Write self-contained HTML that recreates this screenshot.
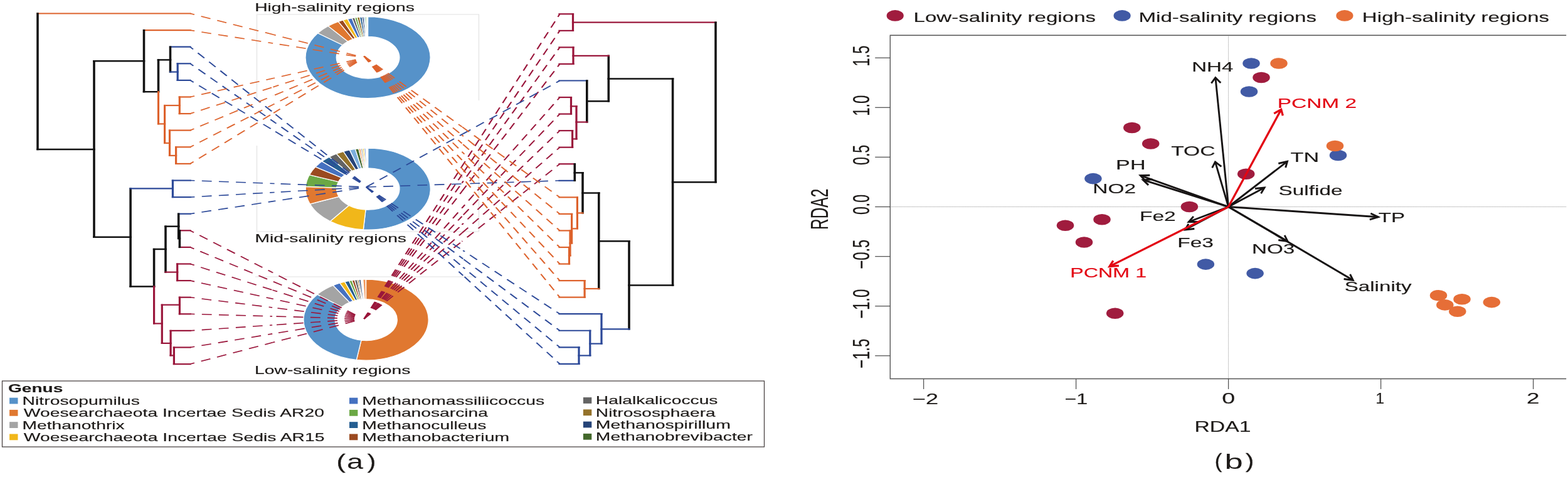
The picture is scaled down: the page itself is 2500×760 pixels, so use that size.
<!DOCTYPE html>
<html><head><meta charset="utf-8"><title>Figure</title><style>html,body{margin:0;padding:0;background:#fff;}svg{display:block}text{font-family:"Liberation Sans",Arial,sans-serif}</style></head><body>
<svg width="2500" height="760" viewBox="0 0 2500 760">
<rect width="2500" height="760" fill="#fff"/>
<polyline points="409.5,157 409.5,23 763.5,23 763.5,160" fill="none" stroke="#e2e2e2" stroke-width="1.2"/>
<polyline points="409.5,232 409.5,369 763.5,369 763.5,232" fill="none" stroke="#e2e2e2" stroke-width="1.2"/>
<polyline points="406.8,441 761,441" fill="none" stroke="#e2e2e2" stroke-width="1.2"/>
<path d="M586.60,26.60 A99.6,65 0 1 1 506.74,52.75 L546.27,71.76 A50.3,33.2 0 1 0 586.60,58.40 Z" fill="#5692c9" stroke="#fff" stroke-width="1.3"/>
<path d="M506.74,52.75 A99.6,65 0 0 1 523.25,41.44 L554.61,65.98 A50.3,33.2 0 0 0 546.27,71.76 Z" fill="#a4a4a4" stroke="#fff" stroke-width="1.3"/>
<path d="M523.25,41.44 A99.6,65 0 0 1 539.38,34.37 L562.75,62.37 A50.3,33.2 0 0 0 554.61,65.98 Z" fill="#e07830" stroke="#fff" stroke-width="1.3"/>
<path d="M539.38,34.37 A99.6,65 0 0 1 546.88,31.99 L566.54,61.15 A50.3,33.2 0 0 0 562.75,62.37 Z" fill="#9b4a20" stroke="#fff" stroke-width="1.3"/>
<path d="M546.88,31.99 A99.6,65 0 0 1 554.17,30.14 L570.22,60.21 A50.3,33.2 0 0 0 566.54,61.15 Z" fill="#f1b71a" stroke="#fff" stroke-width="1.3"/>
<path d="M554.17,30.14 A99.6,65 0 0 1 561.16,28.76 L573.75,59.50 A50.3,33.2 0 0 0 570.22,60.21 Z" fill="#4571c0" stroke="#fff" stroke-width="1.3"/>
<path d="M561.16,28.76 A99.6,65 0 0 1 565.55,28.07 L575.97,59.15 A50.3,33.2 0 0 0 573.75,59.50 Z" fill="#646464" stroke="#fff" stroke-width="1.3"/>
<path d="M565.55,28.07 A99.6,65 0 0 1 569.30,27.59 L577.87,58.90 A50.3,33.2 0 0 0 575.97,59.15 Z" fill="#6ba845" stroke="#fff" stroke-width="1.3"/>
<path d="M569.30,27.59 A99.6,65 0 0 1 573.43,27.17 L579.95,58.69 A50.3,33.2 0 0 0 577.87,58.90 Z" fill="#94722a" stroke="#fff" stroke-width="1.3"/>
<path d="M573.43,27.17 A99.6,65 0 0 1 577.23,26.89 L581.87,58.55 A50.3,33.2 0 0 0 579.95,58.69 Z" fill="#255e91" stroke="#fff" stroke-width="1.3"/>
<path d="M577.23,26.89 A99.6,65 0 0 1 580.17,26.74 L583.35,58.47 A50.3,33.2 0 0 0 581.87,58.55 Z" fill="#264478" stroke="#fff" stroke-width="1.3"/>
<path d="M580.17,26.74 A99.6,65 0 0 1 582.43,26.66 L584.49,58.43 A50.3,33.2 0 0 0 583.35,58.47 Z" fill="#7cafdd" stroke="#fff" stroke-width="1.3"/>
<path d="M582.43,26.66 A99.6,65 0 0 1 584.51,26.61 L585.55,58.41 A50.3,33.2 0 0 0 584.49,58.43 Z" fill="#8cc168" stroke="#fff" stroke-width="1.3"/>
<path d="M586.80,236.00 A99.6,65 0 1 1 579.33,365.82 L583.04,334.11 A50.2,33.2 0 1 0 586.80,267.80 Z" fill="#5692c9" stroke="#fff" stroke-width="1.3"/>
<path d="M579.33,365.82 A99.6,65 0 0 1 526.31,352.64 L556.31,327.37 A50.2,33.2 0 0 0 583.04,334.11 Z" fill="#f1b71a" stroke="#fff" stroke-width="1.3"/>
<path d="M526.31,352.64 A99.6,65 0 0 1 494.26,325.03 L540.16,313.28 A50.2,33.2 0 0 0 556.31,327.37 Z" fill="#a4a4a4" stroke="#fff" stroke-width="1.3"/>
<path d="M494.26,325.03 A99.6,65 0 0 1 487.37,297.26 L536.68,299.09 A50.2,33.2 0 0 0 540.16,313.28 Z" fill="#e07830" stroke="#fff" stroke-width="1.3"/>
<path d="M487.37,297.26 A99.6,65 0 0 1 493.27,278.66 L539.66,289.59 A50.2,33.2 0 0 0 536.68,299.09 Z" fill="#6ba845" stroke="#fff" stroke-width="1.3"/>
<path d="M493.27,278.66 A99.6,65 0 0 1 502.99,265.88 L544.56,283.06 A50.2,33.2 0 0 0 539.66,289.59 Z" fill="#9b4a20" stroke="#fff" stroke-width="1.3"/>
<path d="M502.99,265.88 A99.6,65 0 0 1 513.37,257.09 L549.79,278.57 A50.2,33.2 0 0 0 544.56,283.06 Z" fill="#4571c0" stroke="#fff" stroke-width="1.3"/>
<path d="M513.37,257.09 A99.6,65 0 0 1 524.93,250.06 L555.62,274.98 A50.2,33.2 0 0 0 549.79,278.57 Z" fill="#255e91" stroke="#fff" stroke-width="1.3"/>
<path d="M524.93,250.06 A99.6,65 0 0 1 536.40,244.94 L561.40,272.36 A50.2,33.2 0 0 0 555.62,274.98 Z" fill="#646464" stroke="#fff" stroke-width="1.3"/>
<path d="M536.40,244.94 A99.6,65 0 0 1 547.56,241.26 L567.02,270.48 A50.2,33.2 0 0 0 561.40,272.36 Z" fill="#94722a" stroke="#fff" stroke-width="1.3"/>
<path d="M547.56,241.26 A99.6,65 0 0 1 557.51,238.87 L572.04,269.27 A50.2,33.2 0 0 0 567.02,270.48 Z" fill="#264478" stroke="#fff" stroke-width="1.3"/>
<path d="M557.51,238.87 A99.6,65 0 0 1 566.43,237.37 L576.53,268.50 A50.2,33.2 0 0 0 572.04,269.27 Z" fill="#7cafdd" stroke="#fff" stroke-width="1.3"/>
<path d="M566.43,237.37 A99.6,65 0 0 1 571.91,236.73 L579.29,268.17 A50.2,33.2 0 0 0 576.53,268.50 Z" fill="#43682b" stroke="#fff" stroke-width="1.3"/>
<path d="M571.91,236.73 A99.6,65 0 0 1 575.01,236.46 L580.86,268.03 A50.2,33.2 0 0 0 579.29,268.17 Z" fill="#f1975a" stroke="#fff" stroke-width="1.3"/>
<path d="M575.01,236.46 A99.6,65 0 0 1 578.12,236.25 L582.42,267.93 A50.2,33.2 0 0 0 580.86,268.03 Z" fill="#b7b7b7" stroke="#fff" stroke-width="1.3"/>
<path d="M578.12,236.25 A99.6,65 0 0 1 580.72,236.12 L583.74,267.86 A50.2,33.2 0 0 0 582.42,267.93 Z" fill="#ffcd33" stroke="#fff" stroke-width="1.3"/>
<path d="M580.72,236.12 A99.6,65 0 0 1 582.98,236.05 L584.87,267.82 A50.2,33.2 0 0 0 583.74,267.86 Z" fill="#698ed0" stroke="#fff" stroke-width="1.3"/>
<path d="M583.60,445.00 A99.6,64.6 0 1 1 568.36,573.44 L576.01,542.11 A49.6,32.9 0 1 0 583.60,476.70 Z" fill="#e07830" stroke="#fff" stroke-width="1.3"/>
<path d="M568.36,573.44 A99.6,64.6 0 0 1 505.98,469.12 L544.94,488.98 A49.6,32.9 0 0 0 576.01,542.11 Z" fill="#5692c9" stroke="#fff" stroke-width="1.3"/>
<path d="M505.98,469.12 A99.6,64.6 0 0 1 531.12,454.70 L557.46,481.64 A49.6,32.9 0 0 0 544.94,488.98 Z" fill="#a4a4a4" stroke="#fff" stroke-width="1.3"/>
<path d="M531.12,454.70 A99.6,64.6 0 0 1 541.82,450.96 L562.80,479.73 A49.6,32.9 0 0 0 557.46,481.64 Z" fill="#4571c0" stroke="#fff" stroke-width="1.3"/>
<path d="M541.82,450.96 A99.6,64.6 0 0 1 549.70,448.86 L566.72,478.66 A49.6,32.9 0 0 0 562.80,479.73 Z" fill="#f1b71a" stroke="#fff" stroke-width="1.3"/>
<path d="M549.70,448.86 A99.6,64.6 0 0 1 556.65,447.41 L570.18,477.93 A49.6,32.9 0 0 0 566.72,478.66 Z" fill="#255e91" stroke="#fff" stroke-width="1.3"/>
<path d="M556.65,447.41 A99.6,64.6 0 0 1 561.19,446.66 L572.44,477.54 A49.6,32.9 0 0 0 570.18,477.93 Z" fill="#6ba845" stroke="#fff" stroke-width="1.3"/>
<path d="M561.19,446.66 A99.6,64.6 0 0 1 565.28,446.10 L574.48,477.26 A49.6,32.9 0 0 0 572.44,477.54 Z" fill="#9b4a20" stroke="#fff" stroke-width="1.3"/>
<path d="M565.28,446.10 A99.6,64.6 0 0 1 569.57,445.64 L576.61,477.03 A49.6,32.9 0 0 0 574.48,477.26 Z" fill="#646464" stroke="#fff" stroke-width="1.3"/>
<path d="M569.57,445.64 A99.6,64.6 0 0 1 572.15,445.43 L577.90,476.92 A49.6,32.9 0 0 0 576.61,477.03 Z" fill="#94722a" stroke="#fff" stroke-width="1.3"/>
<path d="M572.15,445.43 A99.6,64.6 0 0 1 575.09,445.24 L579.36,476.82 A49.6,32.9 0 0 0 577.90,476.92 Z" fill="#264478" stroke="#fff" stroke-width="1.3"/>
<path d="M578.73,445.08 A99.6,64.6 0 0 1 583.08,445.00 L583.34,476.70 A49.6,32.9 0 0 0 581.18,476.74 Z" fill="#f1975a" stroke="#fff" stroke-width="1.3"/>
<g transform="scale(1.45,1)" fill="none" stroke-width="1.6" stroke-dasharray="10.9 7.86">
<line x1="209.103" y1="21.50" x2="300.217" y2="55.03" stroke="#dd622c" stroke-dashoffset="5.9"/>
<line x1="391.331" y1="88.56" x2="300.217" y2="55.03" stroke="#dd622c" stroke-dashoffset="0"/>
<line x1="209.103" y1="48.10" x2="300.128" y2="68.96" stroke="#dd622c" stroke-dashoffset="5.9"/>
<line x1="391.153" y1="89.81" x2="300.128" y2="68.96" stroke="#dd622c" stroke-dashoffset="0"/>
<line x1="209.103" y1="74.70" x2="302.832" y2="182.01" stroke="#2b4898" stroke-dashoffset="5.9"/>
<line x1="396.560" y1="289.32" x2="302.832" y2="182.01" stroke="#2b4898" stroke-dashoffset="0"/>
<line x1="209.103" y1="101.30" x2="302.657" y2="195.65" stroke="#2b4898" stroke-dashoffset="5.9"/>
<line x1="396.212" y1="290.01" x2="302.657" y2="195.65" stroke="#2b4898" stroke-dashoffset="0"/>
<line x1="209.103" y1="127.90" x2="302.484" y2="209.34" stroke="#2b4898" stroke-dashoffset="5.9"/>
<line x1="395.864" y1="290.78" x2="302.484" y2="209.34" stroke="#2b4898" stroke-dashoffset="0"/>
<line x1="209.103" y1="154.50" x2="300.187" y2="124.79" stroke="#dd622c" stroke-dashoffset="5.9"/>
<line x1="391.270" y1="95.07" x2="300.187" y2="124.79" stroke="#dd622c" stroke-dashoffset="0"/>
<line x1="209.103" y1="181.10" x2="300.300" y2="138.69" stroke="#dd622c" stroke-dashoffset="5.9"/>
<line x1="391.496" y1="96.28" x2="300.300" y2="138.69" stroke="#dd622c" stroke-dashoffset="0"/>
<line x1="209.103" y1="207.70" x2="300.440" y2="152.54" stroke="#dd622c" stroke-dashoffset="5.9"/>
<line x1="391.777" y1="97.38" x2="300.440" y2="152.54" stroke="#dd622c" stroke-dashoffset="0"/>
<line x1="209.103" y1="234.30" x2="300.600" y2="166.34" stroke="#dd622c" stroke-dashoffset="5.9"/>
<line x1="392.096" y1="98.38" x2="300.600" y2="166.34" stroke="#dd622c" stroke-dashoffset="0"/>
<line x1="209.103" y1="260.90" x2="300.772" y2="180.09" stroke="#dd622c" stroke-dashoffset="5.9"/>
<line x1="392.440" y1="99.27" x2="300.772" y2="180.09" stroke="#dd622c" stroke-dashoffset="0"/>
<line x1="209.103" y1="287.50" x2="301.796" y2="292.49" stroke="#2b4898" stroke-dashoffset="5.9"/>
<line x1="394.489" y1="297.48" x2="301.796" y2="292.49" stroke="#2b4898" stroke-dashoffset="0"/>
<line x1="209.103" y1="314.10" x2="301.801" y2="306.45" stroke="#2b4898" stroke-dashoffset="5.9"/>
<line x1="394.498" y1="298.80" x2="301.801" y2="306.45" stroke="#2b4898" stroke-dashoffset="0"/>
<line x1="209.103" y1="340.70" x2="301.847" y2="320.40" stroke="#2b4898" stroke-dashoffset="5.9"/>
<line x1="394.591" y1="300.09" x2="301.847" y2="320.40" stroke="#2b4898" stroke-dashoffset="0"/>
<line x1="209.103" y1="367.30" x2="299.907" y2="434.47" stroke="#9a163b" stroke-dashoffset="5.9"/>
<line x1="390.710" y1="501.64" x2="299.907" y2="434.47" stroke="#9a163b" stroke-dashoffset="0"/>
<line x1="209.103" y1="393.90" x2="299.746" y2="448.27" stroke="#9a163b" stroke-dashoffset="5.9"/>
<line x1="390.389" y1="502.65" x2="299.746" y2="448.27" stroke="#9a163b" stroke-dashoffset="0"/>
<line x1="209.103" y1="420.50" x2="299.605" y2="462.13" stroke="#9a163b" stroke-dashoffset="5.9"/>
<line x1="390.107" y1="503.77" x2="299.605" y2="462.13" stroke="#9a163b" stroke-dashoffset="0"/>
<line x1="209.103" y1="447.10" x2="299.493" y2="476.04" stroke="#9a163b" stroke-dashoffset="5.9"/>
<line x1="389.882" y1="504.98" x2="299.493" y2="476.04" stroke="#9a163b" stroke-dashoffset="0"/>
<line x1="209.103" y1="473.70" x2="299.416" y2="489.99" stroke="#9a163b" stroke-dashoffset="5.9"/>
<line x1="389.729" y1="506.27" x2="299.416" y2="489.99" stroke="#9a163b" stroke-dashoffset="0"/>
<line x1="209.103" y1="500.30" x2="299.381" y2="503.95" stroke="#9a163b" stroke-dashoffset="5.9"/>
<line x1="389.659" y1="507.61" x2="299.381" y2="503.95" stroke="#9a163b" stroke-dashoffset="0"/>
<line x1="209.103" y1="526.90" x2="299.391" y2="517.93" stroke="#9a163b" stroke-dashoffset="5.9"/>
<line x1="389.678" y1="508.96" x2="299.391" y2="517.93" stroke="#9a163b" stroke-dashoffset="0"/>
<line x1="209.103" y1="553.50" x2="299.444" y2="531.89" stroke="#9a163b" stroke-dashoffset="5.9"/>
<line x1="389.784" y1="510.28" x2="299.444" y2="531.89" stroke="#9a163b" stroke-dashoffset="0"/>
<line x1="209.103" y1="580.10" x2="299.536" y2="545.82" stroke="#9a163b" stroke-dashoffset="5.9"/>
<line x1="389.969" y1="511.54" x2="299.536" y2="545.82" stroke="#9a163b" stroke-dashoffset="0"/>
<line x1="400.345" y1="508.00" x2="507.931" y2="265.15" stroke="#9a163b" stroke-dashoffset="0"/>
<line x1="615.517" y1="22.30" x2="507.931" y2="265.15" stroke="#9a163b" stroke-dashoffset="5.9"/>
<line x1="400.345" y1="508.00" x2="507.931" y2="278.43" stroke="#9a163b" stroke-dashoffset="0"/>
<line x1="615.517" y1="48.85" x2="507.931" y2="278.43" stroke="#9a163b" stroke-dashoffset="5.9"/>
<line x1="400.345" y1="508.00" x2="507.931" y2="291.70" stroke="#9a163b" stroke-dashoffset="0"/>
<line x1="615.517" y1="75.40" x2="507.931" y2="291.70" stroke="#9a163b" stroke-dashoffset="5.9"/>
<line x1="400.345" y1="508.00" x2="507.931" y2="304.98" stroke="#9a163b" stroke-dashoffset="0"/>
<line x1="615.517" y1="101.95" x2="507.931" y2="304.98" stroke="#9a163b" stroke-dashoffset="5.9"/>
<line x1="402.759" y1="298.00" x2="509.138" y2="213.25" stroke="#2b4898" stroke-dashoffset="0"/>
<line x1="615.517" y1="128.50" x2="509.138" y2="213.25" stroke="#2b4898" stroke-dashoffset="5.9"/>
<line x1="400.345" y1="508.00" x2="507.931" y2="331.52" stroke="#9a163b" stroke-dashoffset="0"/>
<line x1="615.517" y1="155.05" x2="507.931" y2="331.52" stroke="#9a163b" stroke-dashoffset="5.9"/>
<line x1="400.345" y1="508.00" x2="507.931" y2="344.80" stroke="#9a163b" stroke-dashoffset="0"/>
<line x1="615.517" y1="181.60" x2="507.931" y2="344.80" stroke="#9a163b" stroke-dashoffset="5.9"/>
<line x1="400.345" y1="508.00" x2="507.931" y2="358.07" stroke="#9a163b" stroke-dashoffset="0"/>
<line x1="615.517" y1="208.15" x2="507.931" y2="358.07" stroke="#9a163b" stroke-dashoffset="5.9"/>
<line x1="400.345" y1="508.00" x2="507.931" y2="371.35" stroke="#9a163b" stroke-dashoffset="0"/>
<line x1="615.517" y1="234.70" x2="507.931" y2="371.35" stroke="#9a163b" stroke-dashoffset="5.9"/>
<line x1="400.345" y1="508.00" x2="507.931" y2="384.62" stroke="#9a163b" stroke-dashoffset="0"/>
<line x1="615.517" y1="261.25" x2="507.931" y2="384.62" stroke="#9a163b" stroke-dashoffset="5.9"/>
<line x1="402.759" y1="298.00" x2="509.138" y2="292.90" stroke="#2b4898" stroke-dashoffset="0"/>
<line x1="615.517" y1="287.80" x2="509.138" y2="292.90" stroke="#2b4898" stroke-dashoffset="5.9"/>
<line x1="400.345" y1="89.50" x2="507.931" y2="201.93" stroke="#dd622c" stroke-dashoffset="0"/>
<line x1="615.517" y1="314.35" x2="507.931" y2="201.93" stroke="#dd622c" stroke-dashoffset="5.9"/>
<line x1="400.345" y1="89.50" x2="507.931" y2="215.20" stroke="#dd622c" stroke-dashoffset="0"/>
<line x1="615.517" y1="340.90" x2="507.931" y2="215.20" stroke="#dd622c" stroke-dashoffset="5.9"/>
<line x1="400.345" y1="89.50" x2="507.931" y2="228.48" stroke="#dd622c" stroke-dashoffset="0"/>
<line x1="615.517" y1="367.45" x2="507.931" y2="228.48" stroke="#dd622c" stroke-dashoffset="5.9"/>
<line x1="400.345" y1="89.50" x2="507.931" y2="241.75" stroke="#dd622c" stroke-dashoffset="0"/>
<line x1="615.517" y1="394.00" x2="507.931" y2="241.75" stroke="#dd622c" stroke-dashoffset="5.9"/>
<line x1="400.345" y1="89.50" x2="507.931" y2="255.03" stroke="#dd622c" stroke-dashoffset="0"/>
<line x1="615.517" y1="420.55" x2="507.931" y2="255.03" stroke="#dd622c" stroke-dashoffset="5.9"/>
<line x1="400.345" y1="89.50" x2="507.931" y2="268.30" stroke="#dd622c" stroke-dashoffset="0"/>
<line x1="615.517" y1="447.10" x2="507.931" y2="268.30" stroke="#dd622c" stroke-dashoffset="5.9"/>
<line x1="400.345" y1="89.50" x2="507.931" y2="281.58" stroke="#dd622c" stroke-dashoffset="0"/>
<line x1="615.517" y1="473.65" x2="507.931" y2="281.58" stroke="#dd622c" stroke-dashoffset="5.9"/>
<line x1="402.759" y1="298.00" x2="509.138" y2="399.10" stroke="#2b4898" stroke-dashoffset="0"/>
<line x1="615.517" y1="500.20" x2="509.138" y2="399.10" stroke="#2b4898" stroke-dashoffset="5.9"/>
<line x1="402.759" y1="298.00" x2="509.138" y2="412.38" stroke="#2b4898" stroke-dashoffset="0"/>
<line x1="615.517" y1="526.75" x2="509.138" y2="412.38" stroke="#2b4898" stroke-dashoffset="5.9"/>
<line x1="402.759" y1="298.00" x2="509.138" y2="425.65" stroke="#2b4898" stroke-dashoffset="0"/>
<line x1="615.517" y1="553.30" x2="509.138" y2="425.65" stroke="#2b4898" stroke-dashoffset="5.9"/>
<line x1="402.759" y1="298.00" x2="509.138" y2="438.93" stroke="#2b4898" stroke-dashoffset="0"/>
<line x1="615.517" y1="579.85" x2="509.138" y2="438.93" stroke="#2b4898" stroke-dashoffset="5.9"/>
</g>
<g transform="scale(1.45,1)" stroke-linecap="square">
<line x1="41.38" y1="21.50" x2="208.97" y2="21.50" stroke="#dd622c" stroke-width="2.2"/>
<line x1="158.28" y1="48.10" x2="208.97" y2="48.10" stroke="#dd622c" stroke-width="2.2"/>
<line x1="187.24" y1="74.70" x2="208.97" y2="74.70" stroke="#2b4898" stroke-width="2.2"/>
<line x1="195.31" y1="101.30" x2="208.97" y2="101.30" stroke="#2b4898" stroke-width="2.2"/>
<line x1="195.31" y1="127.90" x2="208.97" y2="127.90" stroke="#2b4898" stroke-width="2.2"/>
<line x1="197.45" y1="154.50" x2="208.97" y2="154.50" stroke="#dd622c" stroke-width="2.2"/>
<line x1="197.45" y1="181.10" x2="208.97" y2="181.10" stroke="#dd622c" stroke-width="2.2"/>
<line x1="186.55" y1="207.70" x2="208.97" y2="207.70" stroke="#dd622c" stroke-width="2.2"/>
<line x1="193.52" y1="234.30" x2="208.97" y2="234.30" stroke="#dd622c" stroke-width="2.2"/>
<line x1="193.52" y1="260.90" x2="208.97" y2="260.90" stroke="#dd622c" stroke-width="2.2"/>
<line x1="189.93" y1="287.50" x2="208.97" y2="287.50" stroke="#2b4898" stroke-width="2.2"/>
<line x1="189.93" y1="314.10" x2="208.97" y2="314.10" stroke="#2b4898" stroke-width="2.2"/>
<line x1="196.34" y1="340.70" x2="208.97" y2="340.70" stroke="#2b4898" stroke-width="2.2"/>
<line x1="197.52" y1="367.30" x2="208.97" y2="367.30" stroke="#9a163b" stroke-width="2.2"/>
<line x1="197.52" y1="393.90" x2="208.97" y2="393.90" stroke="#9a163b" stroke-width="2.2"/>
<line x1="194.97" y1="420.50" x2="208.97" y2="420.50" stroke="#9a163b" stroke-width="2.2"/>
<line x1="194.97" y1="447.10" x2="208.97" y2="447.10" stroke="#9a163b" stroke-width="2.2"/>
<line x1="197.52" y1="473.70" x2="208.97" y2="473.70" stroke="#9a163b" stroke-width="2.2"/>
<line x1="197.52" y1="500.30" x2="208.97" y2="500.30" stroke="#9a163b" stroke-width="2.2"/>
<line x1="187.66" y1="526.90" x2="208.97" y2="526.90" stroke="#9a163b" stroke-width="2.2"/>
<line x1="191.31" y1="553.50" x2="208.97" y2="553.50" stroke="#9a163b" stroke-width="2.2"/>
<line x1="191.31" y1="580.10" x2="208.97" y2="580.10" stroke="#9a163b" stroke-width="2.2"/>
<line x1="41.38" y1="21.50" x2="41.38" y2="238.00" stroke="#111111" stroke-width="2.45"/>
<line x1="41.38" y1="238.00" x2="103.45" y2="238.00" stroke="#111111" stroke-width="2.45"/>
<line x1="103.45" y1="97.30" x2="103.45" y2="377.80" stroke="#111111" stroke-width="2.45"/>
<line x1="103.45" y1="97.30" x2="158.28" y2="97.30" stroke="#111111" stroke-width="2.45"/>
<line x1="158.28" y1="48.10" x2="158.28" y2="146.20" stroke="#111111" stroke-width="2.45"/>
<line x1="158.28" y1="146.20" x2="174.14" y2="146.20" stroke="#111111" stroke-width="2.45"/>
<line x1="174.14" y1="95.40" x2="174.14" y2="146.20" stroke="#111111" stroke-width="2.45"/>
<line x1="174.14" y1="146.20" x2="174.14" y2="197.40" stroke="#dd622c" stroke-width="2.2"/>
<line x1="174.14" y1="95.40" x2="187.24" y2="95.40" stroke="#111111" stroke-width="2.45"/>
<line x1="187.24" y1="74.70" x2="187.24" y2="114.60" stroke="#111111" stroke-width="2.45"/>
<line x1="187.24" y1="114.60" x2="195.31" y2="114.60" stroke="#2b4898" stroke-width="2.2"/>
<line x1="195.31" y1="101.30" x2="195.31" y2="127.90" stroke="#2b4898" stroke-width="2.2"/>
<line x1="174.14" y1="197.40" x2="181.10" y2="197.40" stroke="#dd622c" stroke-width="2.2"/>
<line x1="181.10" y1="168.00" x2="181.10" y2="228.00" stroke="#dd622c" stroke-width="2.2"/>
<line x1="181.10" y1="168.00" x2="197.45" y2="168.00" stroke="#dd622c" stroke-width="2.2"/>
<line x1="197.45" y1="154.50" x2="197.45" y2="181.10" stroke="#dd622c" stroke-width="2.2"/>
<line x1="181.10" y1="228.00" x2="186.55" y2="228.00" stroke="#dd622c" stroke-width="2.2"/>
<line x1="186.55" y1="207.70" x2="186.55" y2="247.90" stroke="#dd622c" stroke-width="2.2"/>
<line x1="186.55" y1="247.90" x2="193.52" y2="247.90" stroke="#dd622c" stroke-width="2.2"/>
<line x1="193.52" y1="234.30" x2="193.52" y2="260.90" stroke="#dd622c" stroke-width="2.2"/>
<line x1="103.45" y1="377.80" x2="143.52" y2="377.80" stroke="#111111" stroke-width="2.45"/>
<line x1="143.52" y1="300.40" x2="143.52" y2="456.40" stroke="#111111" stroke-width="2.45"/>
<line x1="143.52" y1="300.40" x2="189.93" y2="300.40" stroke="#2b4898" stroke-width="2.2"/>
<line x1="189.93" y1="287.50" x2="189.93" y2="314.10" stroke="#2b4898" stroke-width="2.2"/>
<line x1="143.52" y1="456.40" x2="169.38" y2="456.40" stroke="#111111" stroke-width="2.45"/>
<line x1="169.38" y1="397.00" x2="169.38" y2="456.40" stroke="#111111" stroke-width="2.45"/>
<line x1="169.38" y1="456.40" x2="169.38" y2="515.50" stroke="#9a163b" stroke-width="2.2"/>
<line x1="169.38" y1="397.00" x2="182.07" y2="397.00" stroke="#111111" stroke-width="2.45"/>
<line x1="182.07" y1="360.70" x2="182.07" y2="433.60" stroke="#111111" stroke-width="2.45"/>
<line x1="182.07" y1="360.70" x2="196.34" y2="360.70" stroke="#111111" stroke-width="2.45"/>
<line x1="196.34" y1="340.70" x2="196.34" y2="380.00" stroke="#111111" stroke-width="2.45"/>
<line x1="197.52" y1="367.30" x2="197.52" y2="393.90" stroke="#111111" stroke-width="2.45"/>
<line x1="196.34" y1="380.00" x2="197.52" y2="380.00" stroke="#111111" stroke-width="2.45"/>
<line x1="182.07" y1="433.60" x2="194.97" y2="433.60" stroke="#9a163b" stroke-width="2.2"/>
<line x1="194.97" y1="420.50" x2="194.97" y2="447.10" stroke="#9a163b" stroke-width="2.2"/>
<line x1="169.38" y1="515.50" x2="178.14" y2="515.50" stroke="#9a163b" stroke-width="2.2"/>
<line x1="178.14" y1="485.70" x2="178.14" y2="546.90" stroke="#9a163b" stroke-width="2.2"/>
<line x1="178.14" y1="485.70" x2="197.52" y2="485.70" stroke="#9a163b" stroke-width="2.2"/>
<line x1="197.52" y1="473.70" x2="197.52" y2="500.30" stroke="#9a163b" stroke-width="2.2"/>
<line x1="178.14" y1="546.90" x2="187.66" y2="546.90" stroke="#9a163b" stroke-width="2.2"/>
<line x1="187.66" y1="526.90" x2="187.66" y2="566.40" stroke="#9a163b" stroke-width="2.2"/>
<line x1="187.66" y1="566.40" x2="191.31" y2="566.40" stroke="#9a163b" stroke-width="2.2"/>
<line x1="191.31" y1="553.50" x2="191.31" y2="580.10" stroke="#9a163b" stroke-width="2.2"/>
<line x1="615.17" y1="22.30" x2="630.00" y2="22.30" stroke="#9a163b" stroke-width="2.2"/>
<line x1="615.17" y1="48.85" x2="630.00" y2="48.85" stroke="#9a163b" stroke-width="2.2"/>
<line x1="615.17" y1="75.40" x2="630.34" y2="75.40" stroke="#9a163b" stroke-width="2.2"/>
<line x1="615.17" y1="101.95" x2="630.34" y2="101.95" stroke="#9a163b" stroke-width="2.2"/>
<line x1="615.17" y1="128.50" x2="645.38" y2="128.50" stroke="#2b4898" stroke-width="2.2"/>
<line x1="615.17" y1="155.05" x2="627.93" y2="155.05" stroke="#9a163b" stroke-width="2.2"/>
<line x1="615.17" y1="181.60" x2="627.93" y2="181.60" stroke="#9a163b" stroke-width="2.2"/>
<line x1="615.17" y1="208.15" x2="629.38" y2="208.15" stroke="#9a163b" stroke-width="2.2"/>
<line x1="615.17" y1="234.70" x2="629.38" y2="234.70" stroke="#9a163b" stroke-width="2.2"/>
<line x1="615.17" y1="261.25" x2="631.93" y2="261.25" stroke="#9a163b" stroke-width="2.2"/>
<line x1="615.17" y1="287.80" x2="631.93" y2="287.80" stroke="#2b4898" stroke-width="2.2"/>
<line x1="615.17" y1="314.35" x2="634.76" y2="314.35" stroke="#dd622c" stroke-width="2.2"/>
<line x1="615.17" y1="340.90" x2="628.69" y2="340.90" stroke="#dd622c" stroke-width="2.2"/>
<line x1="615.17" y1="367.45" x2="626.90" y2="367.45" stroke="#dd622c" stroke-width="2.2"/>
<line x1="615.17" y1="394.00" x2="625.86" y2="394.00" stroke="#dd622c" stroke-width="2.2"/>
<line x1="615.17" y1="420.55" x2="625.86" y2="420.55" stroke="#dd622c" stroke-width="2.2"/>
<line x1="615.17" y1="447.10" x2="642.83" y2="447.10" stroke="#dd622c" stroke-width="2.2"/>
<line x1="615.17" y1="473.65" x2="642.83" y2="473.65" stroke="#dd622c" stroke-width="2.2"/>
<line x1="615.17" y1="500.20" x2="661.38" y2="500.20" stroke="#2b4898" stroke-width="2.2"/>
<line x1="615.17" y1="526.75" x2="648.83" y2="526.75" stroke="#2b4898" stroke-width="2.2"/>
<line x1="615.17" y1="553.30" x2="636.55" y2="553.30" stroke="#2b4898" stroke-width="2.2"/>
<line x1="615.17" y1="579.85" x2="636.55" y2="579.85" stroke="#2b4898" stroke-width="2.2"/>
<line x1="630.00" y1="22.30" x2="630.00" y2="48.85" stroke="#9a163b" stroke-width="2.2"/>
<line x1="630.00" y1="35.60" x2="786.90" y2="35.60" stroke="#9a163b" stroke-width="2.2"/>
<line x1="786.90" y1="35.60" x2="786.90" y2="290.30" stroke="#111111" stroke-width="2.45"/>
<line x1="739.72" y1="290.30" x2="786.90" y2="290.30" stroke="#111111" stroke-width="2.45"/>
<line x1="739.72" y1="125.50" x2="739.72" y2="454.50" stroke="#111111" stroke-width="2.45"/>
<line x1="669.17" y1="125.50" x2="739.72" y2="125.50" stroke="#111111" stroke-width="2.45"/>
<line x1="669.17" y1="88.80" x2="669.17" y2="161.30" stroke="#111111" stroke-width="2.45"/>
<line x1="630.34" y1="75.40" x2="630.34" y2="101.95" stroke="#9a163b" stroke-width="2.2"/>
<line x1="630.34" y1="88.80" x2="669.17" y2="88.80" stroke="#9a163b" stroke-width="2.2"/>
<line x1="645.38" y1="161.30" x2="669.17" y2="161.30" stroke="#111111" stroke-width="2.45"/>
<line x1="645.38" y1="128.50" x2="645.38" y2="194.50" stroke="#111111" stroke-width="2.45"/>
<line x1="633.79" y1="194.50" x2="645.38" y2="194.50" stroke="#9a163b" stroke-width="2.2"/>
<line x1="633.79" y1="169.30" x2="633.79" y2="221.40" stroke="#9a163b" stroke-width="2.2"/>
<line x1="627.93" y1="155.05" x2="627.93" y2="181.60" stroke="#9a163b" stroke-width="2.2"/>
<line x1="627.93" y1="169.30" x2="633.79" y2="169.30" stroke="#9a163b" stroke-width="2.2"/>
<line x1="629.38" y1="208.15" x2="629.38" y2="234.70" stroke="#9a163b" stroke-width="2.2"/>
<line x1="629.38" y1="221.40" x2="633.79" y2="221.40" stroke="#9a163b" stroke-width="2.2"/>
<line x1="691.72" y1="454.50" x2="739.72" y2="454.50" stroke="#111111" stroke-width="2.45"/>
<line x1="691.72" y1="384.20" x2="691.72" y2="524.40" stroke="#111111" stroke-width="2.45"/>
<line x1="658.48" y1="384.20" x2="691.72" y2="384.20" stroke="#111111" stroke-width="2.45"/>
<line x1="658.48" y1="307.50" x2="658.48" y2="460.00" stroke="#111111" stroke-width="2.45"/>
<line x1="640.69" y1="307.50" x2="658.48" y2="307.50" stroke="#111111" stroke-width="2.45"/>
<line x1="640.69" y1="275.30" x2="640.69" y2="339.40" stroke="#111111" stroke-width="2.45"/>
<line x1="631.93" y1="275.30" x2="640.69" y2="275.30" stroke="#111111" stroke-width="2.45"/>
<line x1="631.93" y1="261.25" x2="631.93" y2="287.80" stroke="#111111" stroke-width="2.45"/>
<line x1="634.76" y1="339.40" x2="640.69" y2="339.40" stroke="#dd622c" stroke-width="2.2"/>
<line x1="634.76" y1="314.35" x2="634.76" y2="364.30" stroke="#dd622c" stroke-width="2.2"/>
<line x1="628.69" y1="364.30" x2="634.76" y2="364.30" stroke="#dd622c" stroke-width="2.2"/>
<line x1="628.69" y1="340.90" x2="628.69" y2="387.50" stroke="#dd622c" stroke-width="2.2"/>
<line x1="626.90" y1="387.50" x2="628.69" y2="387.50" stroke="#dd622c" stroke-width="2.2"/>
<line x1="626.90" y1="367.45" x2="626.90" y2="407.30" stroke="#dd622c" stroke-width="2.2"/>
<line x1="625.86" y1="407.30" x2="626.90" y2="407.30" stroke="#dd622c" stroke-width="2.2"/>
<line x1="625.86" y1="394.00" x2="625.86" y2="420.55" stroke="#dd622c" stroke-width="2.2"/>
<line x1="642.83" y1="460.00" x2="658.48" y2="460.00" stroke="#dd622c" stroke-width="2.2"/>
<line x1="642.83" y1="447.10" x2="642.83" y2="473.65" stroke="#dd622c" stroke-width="2.2"/>
<line x1="661.38" y1="524.40" x2="691.72" y2="524.40" stroke="#2b4898" stroke-width="2.2"/>
<line x1="661.38" y1="500.20" x2="661.38" y2="547.60" stroke="#2b4898" stroke-width="2.2"/>
<line x1="648.83" y1="547.60" x2="661.38" y2="547.60" stroke="#2b4898" stroke-width="2.2"/>
<line x1="648.83" y1="526.75" x2="648.83" y2="566.50" stroke="#2b4898" stroke-width="2.2"/>
<line x1="636.55" y1="566.50" x2="648.83" y2="566.50" stroke="#2b4898" stroke-width="2.2"/>
<line x1="636.55" y1="553.30" x2="636.55" y2="579.85" stroke="#2b4898" stroke-width="2.2"/>
</g>
<text x="406.18" y="18.10" font-size="19.04" textLength="254.64" lengthAdjust="spacingAndGlyphs" fill="#1d1a18" stroke="#1d1a18" stroke-width="0.15">High-salinity regions</text>
<text x="406.48" y="385.60" font-size="18.75" textLength="241.53" lengthAdjust="spacingAndGlyphs" fill="#1d1a18" stroke="#1d1a18" stroke-width="0.15">Mid-salinity regions</text>
<text x="405.98" y="595.80" font-size="18.75" textLength="248.54" lengthAdjust="spacingAndGlyphs" fill="#1d1a18" stroke="#1d1a18" stroke-width="0.15">Low-salinity regions</text>
<rect x="3.5" y="607" width="1215" height="105" fill="#fff" stroke="#3f3838" stroke-width="1.2"/>
<text x="13.05" y="624.80" font-size="18.90" textLength="87.30" lengthAdjust="spacingAndGlyphs" fill="#1d1a18" stroke="#1d1a18" stroke-width="0.15" font-weight="bold">Genus</text>
<rect x="15.1" y="633.70" width="13.4" height="9.8" fill="#5692c9"/>
<text x="35.57" y="645.00" font-size="18.46" textLength="187.45" lengthAdjust="spacingAndGlyphs" fill="#1d1a18" stroke="#1d1a18" stroke-width="0.15">Nitrosopumilus</text>
<rect x="15.1" y="652.95" width="13.4" height="9.8" fill="#e07830"/>
<text x="37.78" y="664.25" font-size="18.46" textLength="479.22" lengthAdjust="spacingAndGlyphs" fill="#1d1a18" stroke="#1d1a18" stroke-width="0.15">Woesearchaeota Incertae Sedis AR20</text>
<rect x="15.1" y="672.20" width="13.4" height="9.8" fill="#a4a4a4"/>
<text x="35.59" y="683.50" font-size="18.46" textLength="163.12" lengthAdjust="spacingAndGlyphs" fill="#1d1a18" stroke="#1d1a18" stroke-width="0.15">Methanothrix</text>
<rect x="15.1" y="691.45" width="13.4" height="9.8" fill="#f1b71a"/>
<text x="37.78" y="702.75" font-size="18.46" textLength="479.81" lengthAdjust="spacingAndGlyphs" fill="#1d1a18" stroke="#1d1a18" stroke-width="0.15">Woesearchaeota Incertae Sedis AR15</text>
<rect x="557.0" y="633.70" width="13.4" height="9.8" fill="#4571c0"/>
<text x="577.18" y="645.00" font-size="18.46" textLength="290.94" lengthAdjust="spacingAndGlyphs" fill="#1d1a18" stroke="#1d1a18" stroke-width="0.15">Methanomassiliicoccus</text>
<rect x="557.0" y="652.95" width="13.4" height="9.8" fill="#6ba845"/>
<text x="577.18" y="664.25" font-size="18.46" textLength="200.82" lengthAdjust="spacingAndGlyphs" fill="#1d1a18" stroke="#1d1a18" stroke-width="0.15">Methanosarcina</text>
<rect x="557.0" y="672.20" width="13.4" height="9.8" fill="#255e91"/>
<text x="577.18" y="683.50" font-size="18.46" textLength="198.24" lengthAdjust="spacingAndGlyphs" fill="#1d1a18" stroke="#1d1a18" stroke-width="0.15">Methanoculleus</text>
<rect x="557.0" y="691.45" width="13.4" height="9.8" fill="#9b4a20"/>
<text x="577.17" y="702.75" font-size="18.46" textLength="234.90" lengthAdjust="spacingAndGlyphs" fill="#1d1a18" stroke="#1d1a18" stroke-width="0.15">Methanobacterium</text>
<rect x="929.9" y="633.10" width="13.4" height="9.8" fill="#646464"/>
<text x="949.88" y="644.40" font-size="18.46" textLength="194.64" lengthAdjust="spacingAndGlyphs" fill="#1d1a18" stroke="#1d1a18" stroke-width="0.15">Halalkalicoccus</text>
<rect x="929.9" y="652.35" width="13.4" height="9.8" fill="#94722a"/>
<text x="949.89" y="663.65" font-size="18.46" textLength="190.81" lengthAdjust="spacingAndGlyphs" fill="#1d1a18" stroke="#1d1a18" stroke-width="0.15">Nitrososphaera</text>
<rect x="929.9" y="671.60" width="13.4" height="9.8" fill="#264478"/>
<text x="949.87" y="682.90" font-size="18.46" textLength="215.01" lengthAdjust="spacingAndGlyphs" fill="#1d1a18" stroke="#1d1a18" stroke-width="0.15">Methanospirillum</text>
<rect x="929.9" y="690.85" width="13.4" height="9.8" fill="#43682b"/>
<text x="949.88" y="702.15" font-size="18.46" textLength="250.09" lengthAdjust="spacingAndGlyphs" fill="#1d1a18" stroke="#1d1a18" stroke-width="0.15">Methanobrevibacter</text>
<text x="536.43" y="745.50" font-size="31.79" textLength="14.32" lengthAdjust="spacingAndGlyphs" fill="#1d1a18" stroke="#1d1a18" stroke-width="0.3">(</text>
<text x="552.91" y="747.00" font-size="32.48" textLength="26.09" lengthAdjust="spacingAndGlyphs" fill="#1d1a18" stroke="#1d1a18" stroke-width="0">a</text>
<text x="585.86" y="745.50" font-size="31.79" textLength="13.44" lengthAdjust="spacingAndGlyphs" fill="#1d1a18" stroke="#1d1a18" stroke-width="0.3">)</text>
<line x1="1958.6" y1="56.3" x2="1958.6" y2="603.5" stroke="#8e8e8e" stroke-width="1" stroke-dasharray="1 1.1"/>
<line x1="1419.3" y1="329.5" x2="2497.2" y2="329.5" stroke="#8e8e8e" stroke-width="1" stroke-dasharray="1 1.1"/>
<polyline points="2497.2,56.3 1419.3,56.3 1419.3,603.5 2497.2,603.5" fill="none" stroke="#555" stroke-width="1.4"/>
<line x1="1395.20" y1="92.20" x2="1419.30" y2="92.20" stroke="#555" stroke-width="1.3"/>
<line x1="1395.20" y1="171.30" x2="1419.30" y2="171.30" stroke="#555" stroke-width="1.3"/>
<line x1="1395.20" y1="250.40" x2="1419.30" y2="250.40" stroke="#555" stroke-width="1.3"/>
<line x1="1395.20" y1="329.50" x2="1419.30" y2="329.50" stroke="#555" stroke-width="1.3"/>
<line x1="1395.20" y1="408.60" x2="1419.30" y2="408.60" stroke="#555" stroke-width="1.3"/>
<line x1="1395.20" y1="487.70" x2="1419.30" y2="487.70" stroke="#555" stroke-width="1.3"/>
<line x1="1395.20" y1="566.80" x2="1419.30" y2="566.80" stroke="#555" stroke-width="1.3"/>
<line x1="1472.60" y1="603.50" x2="1472.60" y2="620.00" stroke="#555" stroke-width="1.3"/>
<line x1="1715.60" y1="603.50" x2="1715.60" y2="620.00" stroke="#555" stroke-width="1.3"/>
<line x1="1958.60" y1="603.50" x2="1958.60" y2="620.00" stroke="#555" stroke-width="1.3"/>
<line x1="2201.60" y1="603.50" x2="2201.60" y2="620.00" stroke="#555" stroke-width="1.3"/>
<line x1="2444.60" y1="603.50" x2="2444.60" y2="620.00" stroke="#555" stroke-width="1.3"/>
<text transform="translate(1386.00,103.90) rotate(-90)" x="-1.82" y="0" font-size="37.06" textLength="33.22" lengthAdjust="spacingAndGlyphs" fill="#1d1a18" stroke="#1d1a18" stroke-width="0.15">1.5</text>
<text transform="translate(1386.00,183.00) rotate(-90)" x="-1.82" y="0" font-size="36.52" textLength="33.15" lengthAdjust="spacingAndGlyphs" fill="#1d1a18" stroke="#1d1a18" stroke-width="0.15">1.0</text>
<text transform="translate(1386.00,262.10) rotate(-90)" x="-0.91" y="0" font-size="36.52" textLength="32.28" lengthAdjust="spacingAndGlyphs" fill="#1d1a18" stroke="#1d1a18" stroke-width="0.15">0.5</text>
<text transform="translate(1386.00,341.20) rotate(-90)" x="-0.91" y="0" font-size="36.52" textLength="32.21" lengthAdjust="spacingAndGlyphs" fill="#1d1a18" stroke="#1d1a18" stroke-width="0.15">0.0</text>
<text transform="translate(1386.00,427.60) rotate(-90)" x="-1.18" y="0" font-size="36.52" textLength="47.18" lengthAdjust="spacingAndGlyphs" fill="#1d1a18" stroke="#1d1a18" stroke-width="0.15">−0.5</text>
<text transform="translate(1386.00,506.70) rotate(-90)" x="-1.18" y="0" font-size="36.52" textLength="47.11" lengthAdjust="spacingAndGlyphs" fill="#1d1a18" stroke="#1d1a18" stroke-width="0.15">−1.0</text>
<text transform="translate(1386.00,585.80) rotate(-90)" x="-1.18" y="0" font-size="37.06" textLength="47.18" lengthAdjust="spacingAndGlyphs" fill="#1d1a18" stroke="#1d1a18" stroke-width="0.15">−1.5</text>
<text x="1454.82" y="643.60" font-size="24.06" textLength="41.20" lengthAdjust="spacingAndGlyphs" fill="#1d1a18" stroke="#1d1a18" stroke-width="0.15">−2</text>
<text x="1697.41" y="643.60" font-size="24.42" textLength="36.76" lengthAdjust="spacingAndGlyphs" fill="#1d1a18" stroke="#1d1a18" stroke-width="0.15">−1</text>
<text x="1948.33" y="643.40" font-size="23.77" textLength="20.94" lengthAdjust="spacingAndGlyphs" fill="#1d1a18" stroke="#1d1a18" stroke-width="0.15">0</text>
<text x="2193.29" y="643.40" font-size="24.13" textLength="13.93" lengthAdjust="spacingAndGlyphs" fill="#1d1a18" stroke="#1d1a18" stroke-width="0.15">1</text>
<text x="2433.95" y="643.40" font-size="23.77" textLength="20.51" lengthAdjust="spacingAndGlyphs" fill="#1d1a18" stroke="#1d1a18" stroke-width="0.15">2</text>
<text x="1904.43" y="688.30" font-size="24.27" textLength="90.02" lengthAdjust="spacingAndGlyphs" fill="#1d1a18" stroke="#1d1a18" stroke-width="0.15">RDA1</text>
<text transform="translate(1319.70,363.90) rotate(-90)" x="-2.00" y="0" font-size="39.67" textLength="65.13" lengthAdjust="spacingAndGlyphs" fill="#1d1a18" stroke="#1d1a18" stroke-width="0.15">RDA2</text>
<text x="1936.65" y="745.40" font-size="31.04" textLength="11.56" lengthAdjust="spacingAndGlyphs" fill="#1d1a18" stroke="#1d1a18" stroke-width="0.3">(</text>
<text x="1952.50" y="746.80" font-size="32.57" textLength="29.31" lengthAdjust="spacingAndGlyphs" fill="#1d1a18" stroke="#1d1a18" stroke-width="0">b</text>
<text x="1985.97" y="745.40" font-size="31.04" textLength="13.19" lengthAdjust="spacingAndGlyphs" fill="#1d1a18" stroke="#1d1a18" stroke-width="0.3">)</text>
<ellipse cx="2011" cy="123.5" rx="13.75" ry="8.8" fill="#a01c3e"/>
<ellipse cx="1986.7" cy="277.3" rx="13.75" ry="8.8" fill="#a01c3e"/>
<ellipse cx="1896.4" cy="329.5" rx="13.75" ry="8.8" fill="#a01c3e"/>
<ellipse cx="1804.8" cy="203.5" rx="13.75" ry="8.8" fill="#a01c3e"/>
<ellipse cx="1834.7" cy="229" rx="13.75" ry="8.8" fill="#a01c3e"/>
<ellipse cx="1757" cy="349.8" rx="13.75" ry="8.8" fill="#a01c3e"/>
<ellipse cx="1698.5" cy="359.3" rx="13.75" ry="8.8" fill="#a01c3e"/>
<ellipse cx="1728.5" cy="386" rx="13.75" ry="8.8" fill="#a01c3e"/>
<ellipse cx="1777.7" cy="499.2" rx="13.75" ry="8.8" fill="#a01c3e"/>
<ellipse cx="1995" cy="101" rx="13.75" ry="8.8" fill="#415aa5"/>
<ellipse cx="1991.5" cy="146" rx="13.75" ry="8.8" fill="#415aa5"/>
<ellipse cx="2133.5" cy="247.5" rx="13.75" ry="8.8" fill="#415aa5"/>
<ellipse cx="1742.9" cy="284.6" rx="13.75" ry="8.8" fill="#415aa5"/>
<ellipse cx="1922.4" cy="421.1" rx="13.75" ry="8.8" fill="#415aa5"/>
<ellipse cx="2001.1" cy="435.6" rx="13.75" ry="8.8" fill="#415aa5"/>
<ellipse cx="2039" cy="101" rx="13.75" ry="8.8" fill="#e66e37"/>
<ellipse cx="2128.5" cy="232.5" rx="13.75" ry="8.8" fill="#e66e37"/>
<ellipse cx="2293.5" cy="470.7" rx="13.75" ry="8.8" fill="#e66e37"/>
<ellipse cx="2331" cy="476.8" rx="13.75" ry="8.8" fill="#e66e37"/>
<ellipse cx="2378.3" cy="481.6" rx="13.75" ry="8.8" fill="#e66e37"/>
<ellipse cx="2303.8" cy="485.9" rx="13.75" ry="8.8" fill="#e66e37"/>
<ellipse cx="2323.8" cy="496.2" rx="13.75" ry="8.8" fill="#e66e37"/>
<line x1="1958.6" y1="329.5" x2="1937.9" y2="123.6" stroke="#161313" stroke-width="2.9"/>
<polyline points="1946.25,131.91 1937.9,123.6 1931.29,132.58" fill="none" stroke="#161313" stroke-width="2.9" stroke-linejoin="miter"/>
<line x1="1958.6" y1="329.5" x2="1818.3" y2="279.6" stroke="#161313" stroke-width="2.9"/>
<polyline points="1833.29,279.26 1818.3,279.6 1826.23,288.09" fill="none" stroke="#161313" stroke-width="2.9" stroke-linejoin="miter"/>
<line x1="1958.6" y1="329.5" x2="1822.5" y2="286.7" stroke="#161313" stroke-width="2.9"/>
<polyline points="1837.45,285.87 1822.5,286.7 1831.05,294.92" fill="none" stroke="#161313" stroke-width="2.9" stroke-linejoin="miter"/>
<line x1="1958.6" y1="329.5" x2="1937.5" y2="257.9" stroke="#161313" stroke-width="2.9"/>
<polyline points="1947.36,265.43 1937.5,257.9 1932.64,267.36" fill="none" stroke="#161313" stroke-width="2.9" stroke-linejoin="miter"/>
<line x1="1958.6" y1="329.5" x2="1895.3" y2="353.5" stroke="#161313" stroke-width="2.9"/>
<polyline points="1902.88,344.87 1895.3,353.5 1910.30,353.56" fill="none" stroke="#161313" stroke-width="2.9" stroke-linejoin="miter"/>
<line x1="1958.6" y1="329.5" x2="1889.5" y2="366" stroke="#161313" stroke-width="2.9"/>
<polyline points="1895.02,356.70 1889.5,366 1904.34,364.54" fill="none" stroke="#161313" stroke-width="2.9" stroke-linejoin="miter"/>
<line x1="1958.6" y1="329.5" x2="2052.5" y2="257.2" stroke="#161313" stroke-width="2.9"/>
<polyline points="2049.67,267.02 2052.5,257.2 2038.33,260.47" fill="none" stroke="#161313" stroke-width="2.9" stroke-linejoin="miter"/>
<line x1="1958.6" y1="329.5" x2="2016" y2="299" stroke="#161313" stroke-width="2.9"/>
<polyline points="2010.52,308.31 2016,299 2001.17,300.49" fill="none" stroke="#161313" stroke-width="2.9" stroke-linejoin="miter"/>
<line x1="1958.6" y1="329.5" x2="2197.5" y2="345.8" stroke="#161313" stroke-width="2.9"/>
<polyline points="2183.81,349.89 2197.5,345.8 2185.34,339.94" fill="none" stroke="#161313" stroke-width="2.9" stroke-linejoin="miter"/>
<line x1="1958.6" y1="329.5" x2="2053" y2="384.4" stroke="#161313" stroke-width="2.9"/>
<polyline points="2038.28,382.47 2053,384.4 2048.14,374.94" fill="none" stroke="#161313" stroke-width="2.9" stroke-linejoin="miter"/>
<line x1="1958.6" y1="329.5" x2="2157.3" y2="446.5" stroke="#161313" stroke-width="2.9"/>
<polyline points="2142.60,444.51 2157.3,446.5 2152.53,437.02" fill="none" stroke="#161313" stroke-width="2.9" stroke-linejoin="miter"/>
<line x1="1958.6" y1="329.5" x2="2042.7" y2="174.4" stroke="#e30613" stroke-width="3.3"/>
<polyline points="2045.34,184.24 2042.7,174.4 2031.23,180.84" fill="none" stroke="#e30613" stroke-width="3.3" stroke-linejoin="miter"/>
<line x1="1958.6" y1="329.5" x2="1769" y2="424.5" stroke="#e30613" stroke-width="3.3"/>
<polyline points="1774.88,415.30 1769,424.5 1783.89,423.29" fill="none" stroke="#e30613" stroke-width="3.3" stroke-linejoin="miter"/>
<text x="1900.19" y="113.70" font-size="22.38" textLength="66.08" lengthAdjust="spacingAndGlyphs" fill="#1d1a18" stroke="#1d1a18" stroke-width="0.15">NH4</text>
<text x="2036.66" y="171.60" font-size="22.38" textLength="126.43" lengthAdjust="spacingAndGlyphs" fill="#e30613" stroke="#e30613" stroke-width="0.15">PCNM 2</text>
<text x="1867.15" y="247.70" font-size="22.38" textLength="70.32" lengthAdjust="spacingAndGlyphs" fill="#1d1a18" stroke="#1d1a18" stroke-width="0.15">TOC</text>
<text x="1779.10" y="269.50" font-size="22.38" textLength="47.49" lengthAdjust="spacingAndGlyphs" fill="#1d1a18" stroke="#1d1a18" stroke-width="0.15">PH</text>
<text x="1742.35" y="307.60" font-size="22.38" textLength="68.83" lengthAdjust="spacingAndGlyphs" fill="#1d1a18" stroke="#1d1a18" stroke-width="0.15">NO2</text>
<text x="1816.95" y="352.10" font-size="22.38" textLength="57.84" lengthAdjust="spacingAndGlyphs" fill="#1d1a18" stroke="#1d1a18" stroke-width="0.15">Fe2</text>
<text x="1877.25" y="393.60" font-size="22.38" textLength="57.72" lengthAdjust="spacingAndGlyphs" fill="#1d1a18" stroke="#1d1a18" stroke-width="0.15">Fe3</text>
<text x="2057.63" y="258.40" font-size="22.38" textLength="45.66" lengthAdjust="spacingAndGlyphs" fill="#1d1a18" stroke="#1d1a18" stroke-width="0.15">TN</text>
<text x="2038.59" y="310.60" font-size="22.38" textLength="101.89" lengthAdjust="spacingAndGlyphs" fill="#1d1a18" stroke="#1d1a18" stroke-width="0.15">Sulfide</text>
<text x="2197.76" y="353.50" font-size="22.38" textLength="42.29" lengthAdjust="spacingAndGlyphs" fill="#1d1a18" stroke="#1d1a18" stroke-width="0.15">TP</text>
<text x="1995.97" y="403.70" font-size="22.38" textLength="68.39" lengthAdjust="spacingAndGlyphs" fill="#1d1a18" stroke="#1d1a18" stroke-width="0.15">NO3</text>
<text x="2143.69" y="464.30" font-size="22.38" textLength="106.87" lengthAdjust="spacingAndGlyphs" fill="#1d1a18" stroke="#1d1a18" stroke-width="0.15">Salinity</text>
<text x="1706.36" y="441.90" font-size="22.38" textLength="121.72" lengthAdjust="spacingAndGlyphs" fill="#e30613" stroke="#e30613" stroke-width="0.15">PCNM 1</text>
<ellipse cx="1427.2" cy="24.9" rx="13.6" ry="8.85" fill="#a01c3e"/>
<ellipse cx="1789.1" cy="24.9" rx="13.6" ry="8.85" fill="#415aa5"/>
<ellipse cx="2143.9" cy="24.9" rx="13.6" ry="8.85" fill="#e66e37"/>
<text x="1456.49" y="34.50" font-size="22.38" textLength="290.61" lengthAdjust="spacingAndGlyphs" fill="#1d1a18" stroke="#1d1a18" stroke-width="0.15">Low-salinity regions</text>
<text x="1815.48" y="34.50" font-size="22.38" textLength="283.62" lengthAdjust="spacingAndGlyphs" fill="#1d1a18" stroke="#1d1a18" stroke-width="0.15">Mid-salinity regions</text>
<text x="2171.88" y="34.50" font-size="22.38" textLength="298.31" lengthAdjust="spacingAndGlyphs" fill="#1d1a18" stroke="#1d1a18" stroke-width="0.15">High-salinity regions</text>
</svg>
</body></html>
